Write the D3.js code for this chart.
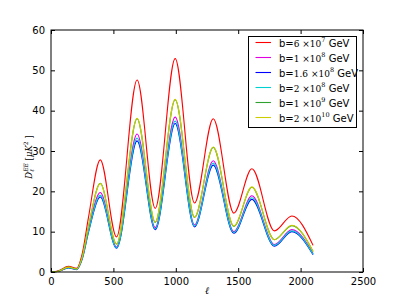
<!DOCTYPE html>
<html>
<head>
<meta charset="utf-8">
<script src="https://cdn.jsdelivr.net/npm/d3@7"></script>
<style>
  body { margin: 0; background: #fff; }
  svg { display: block; }
  .tick text { font-family: "DejaVu Sans", sans-serif; font-size: 10px; fill: #000; }
</style>
</head>
<body>
<svg id="chart" width="403" height="303"></svg>
<script>
const ell = [2, 60, 140, 205, 250, 300, 395, 525, 690, 835, 995, 1150, 1300, 1465, 1610, 1790, 1930, 2100];

const red     = [0, 0.3, 1.4, 0.9, 4.5, 13.5, 27.8, 8.7, 47.6, 15.8, 52.9, 17.1, 38.0, 14.6, 25.6, 10.2, 13.9, 6.6];
const magenta = [0, 0.2, 1.1, 0.7, 3.5, 10.5, 19.7, 6.2, 34.2, 11.0, 38.4, 11.7, 27.6, 10.0, 18.9, 6.8, 10.5, 4.6];
const blue    = [0, 0.2, 1.0, 0.6, 3.2, 9.8, 18.6, 5.9, 32.5, 10.5, 36.8, 11.2, 26.5, 9.6, 18.0, 6.4, 10.0, 4.3];
const cyan    = [0, 0.2, 1.05, 0.65, 3.3, 10.0, 19.0, 6.0, 33.2, 10.7, 37.4, 11.4, 27.0, 9.8, 18.4, 6.6, 10.2, 4.4];
const green   = [0, 0.2, 1.2, 0.75, 3.7, 11.2, 22.0, 6.9, 38.0, 12.3, 42.7, 13.5, 30.9, 11.3, 21.0, 8.0, 11.5, 5.1];
const yellow  = [0, 0.2, 1.2, 0.75, 3.7, 11.2, 21.9, 6.9, 38.1, 12.4, 42.8, 13.6, 31.0, 11.4, 21.1, 8.0, 11.6, 5.1];

// legend: mantissa, exponent
const labels = [["6", "7"], ["1", "8"], ["1.6", "8"], ["2", "8"], ["1", "9"], ["2", "10"]];
const xTicks = [0, 500, 1000, 1500, 2000, 2500];
const yTicks = [0, 10, 20, 30, 40, 50, 60];

const series = [
  { values: red, color: "#ff0000" },
  { values: magenta, color: "#e000e0" },
  { values: blue, color: "#0000ff" },
  { values: cyan, color: "#00d0d0" },
  { values: green, color: "#30a030" },
  { values: yellow, color: "#cccc00" }
];

const width = 403, height = 303;
const margin = { top: 30, right: 40, bottom: 31, left: 51 };

const svg = d3.select("#chart");

const x = d3.scaleLinear().domain([0, 2500]).range([margin.left, width - margin.right]);
const y = d3.scaleLinear().domain([0, 60]).range([height - margin.bottom, margin.top]);

const line = d3.line()
  .x(d => x(d[0]))
  .y(d => y(d[1]))
  .curve(d3.curveMonotoneX);

const plot = svg.append("g");
series.forEach(s => {
  plot.append("path")
    .datum(ell.map((l, i) => [l, s.values[i]]))
    .attr("fill", "none")
    .attr("stroke", s.color)
    .attr("stroke-width", 1.1)
    .attr("d", line);
});

// axes, ticks pointing inward on all four sides (classic matplotlib look)
const axisStyle = g => {
  g.select(".domain").remove();
  g.selectAll(".tick line").attr("stroke", "#000");
};
const fmt = d3.format("d");

svg.append("g")
  .attr("transform", `translate(0,${height - margin.bottom})`)
  .call(d3.axisBottom(x).tickValues(xTicks).tickFormat(fmt).tickSizeInner(-4).tickSizeOuter(0).tickPadding(6))
  .call(axisStyle);
svg.append("g")
  .attr("transform", `translate(0,${margin.top})`)
  .call(d3.axisTop(x).tickValues(xTicks).tickSizeInner(-4).tickSizeOuter(0).tickFormat(""))
  .call(axisStyle);
svg.append("g")
  .attr("transform", `translate(${margin.left},0)`)
  .call(d3.axisLeft(y).tickValues(yTicks).tickFormat(fmt).tickSizeInner(-4).tickSizeOuter(0).tickPadding(6))
  .call(axisStyle);
svg.append("g")
  .attr("transform", `translate(${width - margin.right},0)`)
  .call(d3.axisRight(y).tickValues(yTicks).tickSizeInner(-4).tickSizeOuter(0).tickFormat(""))
  .call(axisStyle);

svg.append("rect")
  .attr("x", margin.left).attr("y", margin.top)
  .attr("width", width - margin.left - margin.right)
  .attr("height", height - margin.top - margin.bottom)
  .attr("fill", "none").attr("stroke", "#000").attr("stroke-width", 1);

// axis labels
svg.append("text")
  .attr("x", (margin.left + width - margin.right) / 2)
  .attr("y", 294)
  .attr("text-anchor", "middle")
  .attr("font-family", "DejaVu Serif, serif")
  .attr("font-style", "italic")
  .attr("font-size", 10)
  .text("ℓ");

const yl = svg.append("text")
  .attr("transform", "translate(32,157) rotate(-90)")
  .attr("text-anchor", "middle")
  .attr("font-family", "DejaVu Serif, serif")
  .attr("font-size", 8.5);
yl.append("tspan").attr("font-style", "italic").text("D");
yl.append("tspan").attr("font-style", "italic").attr("font-size", 6).attr("dy", 2).text("ℓ");
yl.append("tspan").attr("font-style", "italic").attr("font-size", 6).attr("dy", -6).attr("dx", -2.5).text("EE");
yl.append("tspan").attr("dy", 4).text(" [");
yl.append("tspan").attr("font-style", "italic").text("μK");
yl.append("tspan").attr("font-size", 6).attr("dy", -4).text("2");
yl.append("tspan").attr("dy", 4).text(" ]");

// legend
const legend = svg.append("g");
legend.append("rect")
  .attr("x", 248.5).attr("y", 36.5).attr("width", 108).attr("height", 91)
  .attr("fill", "#fff").attr("stroke", "#000").attr("stroke-width", 1);

series.forEach((s, i) => {
  const yy = 42.5 + i * 15;
  legend.append("line")
    .attr("x1", 255.5).attr("x2", 271).attr("y1", yy).attr("y2", yy)
    .attr("stroke", s.color).attr("stroke-width", 1.1);
  const t = legend.append("text")
    .attr("x", 279).attr("y", yy + 4)
    .attr("font-size", 10);
  t.append("tspan").attr("font-family", "DejaVu Sans, sans-serif").text("b=");
  t.append("tspan").attr("font-family", "DejaVu Serif, serif").attr("font-size", 9).text(labels[i][0] + " ×10");
  t.append("tspan").attr("font-family", "DejaVu Serif, serif").attr("font-size", 6.5).attr("dy", -4.5).text(labels[i][1]);
  t.append("tspan").attr("font-family", "DejaVu Sans, sans-serif").attr("dy", 4.5).text(" GeV");
});
</script>
</body>
</html>
